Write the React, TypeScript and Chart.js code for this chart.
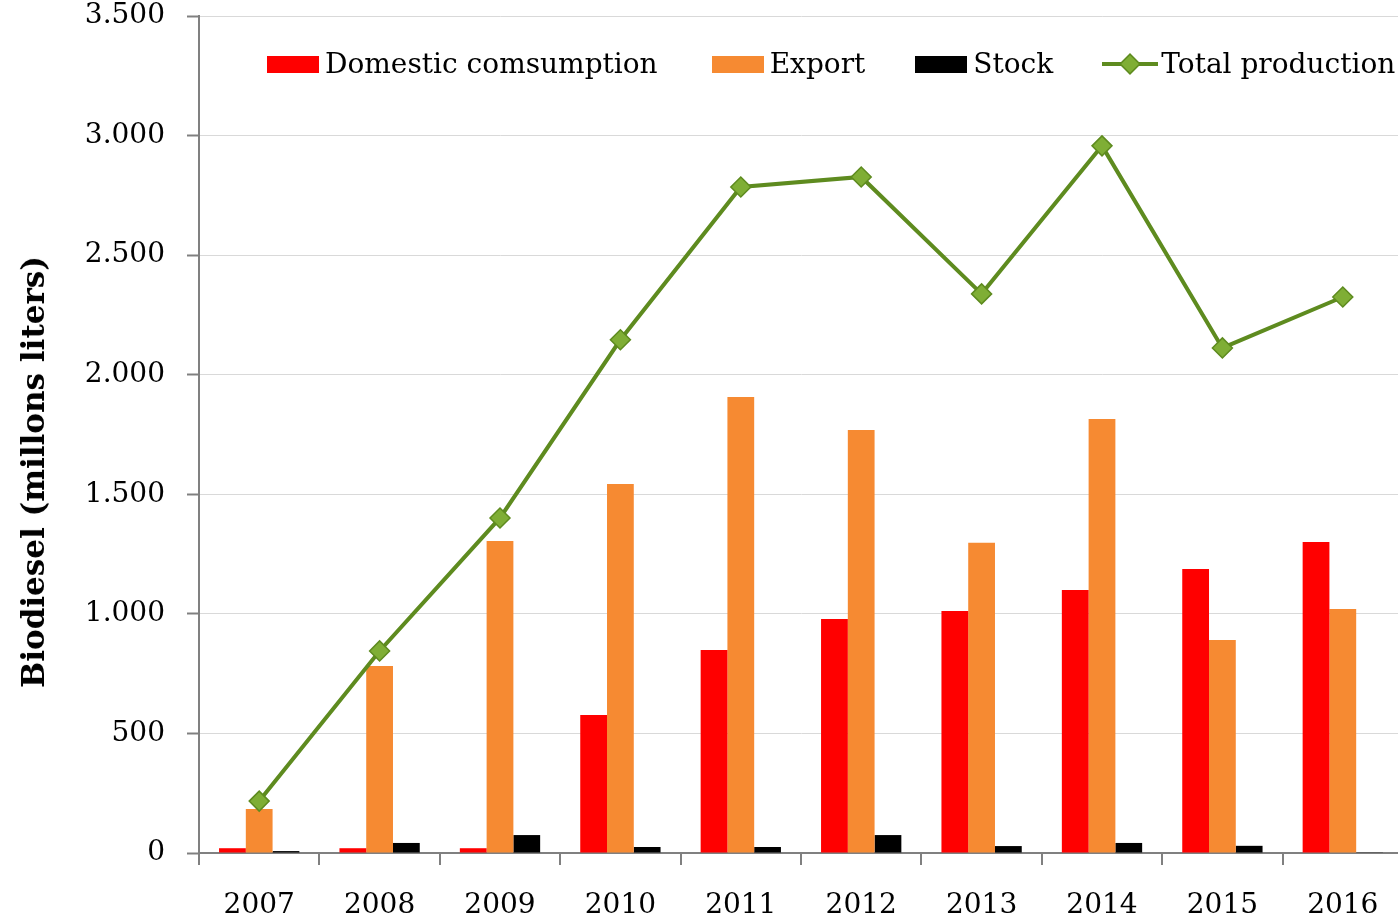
import React, { useEffect, useRef } from "react";
import { Chart, registerables } from "chart.js";

Chart.register(...registerables);

const years = ["2007", "2008", "2009", "2010", "2011", "2012", "2013", "2014", "2015", "2016"];
const domestic = [20, 20, 20, 577, 849, 979, 1012, 1100, 1188, 1301];
const exportVals = [184, 782, 1305, 1543, 1907, 1769, 1297, 1815, 891, 1020];
const stock = [8, 42, 75, 25, 25, 75, 29, 42, 30, 3];
const totalProduction = [217, 845, 1401, 2146, 2785, 2827, 2338, 2957, 2112, 2325];
const yTicks = [0, 500, 1000, 1500, 2000, 2500, 3000, 3500];

const FONT = "'DejaVu Serif', serif";
const RED = "#FF0000";
const ORANGE = "#F68A32";
const GREEN = "#5E8B1F";
const GREEN_FILL = "#7FAE35";

function fmt(v: number): string {
  const s = String(Math.round(v));
  return s.replace(/\B(?=(\d{3})+(?!\d))/g, ".");
}

export default function App() {
  const ref = useRef<HTMLCanvasElement | null>(null);

  useEffect(() => {
    if (!ref.current) return;
    const chart = new Chart(ref.current, {
      type: "bar",
      data: {
        labels: years,
        datasets: [
          {
            type: "line",
            label: "Total production",
            data: totalProduction,
            borderColor: GREEN,
            backgroundColor: GREEN_FILL,
            borderWidth: 4,
            pointStyle: "rectRot",
            pointRadius: 10,
            pointBorderWidth: 1.5,
            pointBorderColor: GREEN,
            pointBackgroundColor: GREEN_FILL,
            tension: 0,
            clip: false,
            order: 0,
          } as any,
          {
            label: "Domestic comsumption",
            data: domestic,
            backgroundColor: RED,
            categoryPercentage: 0.667,
            barPercentage: 1,
            order: 1,
          },
          {
            label: "Export",
            data: exportVals,
            backgroundColor: ORANGE,
            categoryPercentage: 0.667,
            barPercentage: 1,
            order: 1,
          },
          {
            label: "Stock",
            data: stock,
            backgroundColor: "#000000",
            categoryPercentage: 0.667,
            barPercentage: 1,
            order: 1,
          },
        ],
      },
      options: {
        animation: false,
        responsive: true,
        maintainAspectRatio: false,
        layout: { padding: 0, autoPadding: false },
        plugins: {
          legend: { display: false },
          tooltip: { enabled: false },
        },
        scales: {
          x: {
            offset: true,
            grid: {
              offset: true,
              drawOnChartArea: false,
              drawTicks: true,
              tickLength: 12,
              color: "#808080",
              lineWidth: 2,
            },
            border: { color: "#808080", width: 2 },
            ticks: {
              color: "#000",
              font: { family: FONT, size: 28 },
              padding: 24,
              maxRotation: 0,
            },
            afterFit: (s: any) => {
              s.height = 67;
              s.paddingLeft = 0;
              s.paddingRight = 0;
            },
          },
          y: {
            min: 0,
            max: 3500,
            afterBuildTicks: (s: any) => {
              s.ticks = yTicks.map((v) => ({ value: v }));
            },
            grid: {
              color: "#D9D9D9",
              lineWidth: 1,
              drawTicks: true,
              tickLength: 12,
              tickColor: "#808080",
              tickWidth: 2,
            },
            border: { color: "#808080", width: 2 },
            ticks: {
              color: "#000",
              font: { family: FONT, size: 28 },
              padding: 22,
              callback: (v: any) => fmt(Number(v)),
            },
            afterFit: (s: any) => {
              s.width = 199;
              s.paddingTop = 16;
              s.paddingBottom = 0;
            },
          },
        },
      },
    });
    return () => chart.destroy();
  }, []);

  const legendText: React.CSSProperties = {
    fontFamily: FONT,
    fontSize: 28,
    color: "#000",
    whiteSpace: "nowrap",
    lineHeight: "34px",
  };
  const box = (c: string): React.CSSProperties => ({
    display: "inline-block",
    width: 52,
    height: 17,
    background: c,
    marginRight: 6,
  });

  return (
    <div style={{ position: "fixed", left: 0, top: 0, width: 1398, height: 920, background: "#fff", overflow: "hidden" }}>
      <div style={{ position: "absolute", left: 0, top: 0, width: 1403, height: 920 }}>
        <canvas ref={ref} />
      </div>
      <div
        style={{
          position: "absolute",
          left: 33,
          top: 472,
          transform: "translate(-50%, -50%) rotate(-90deg)",
          fontFamily: FONT,
          fontSize: 31,
          fontWeight: "bold",
          whiteSpace: "nowrap",
          color: "#000",
        }}
      >
        Biodiesel (millons liters)
      </div>
      <div
        style={{
          position: "absolute",
          top: 47,
          left: 267,
          display: "flex",
          alignItems: "center",
          ...legendText,
        }}
      >
        <span style={{ display: "flex", alignItems: "center", marginRight: 54 }}>
          <span style={box(RED)} />
          Domestic comsumption
        </span>
        <span style={{ display: "flex", alignItems: "center", marginRight: 50 }}>
          <span style={box(ORANGE)} />
          Export
        </span>
        <span style={{ display: "flex", alignItems: "center", marginRight: 49 }}>
          <span style={box("#000")} />
          Stock
        </span>
        <span style={{ display: "flex", alignItems: "center" }}>
          <svg width={56} height={22} style={{ marginRight: 3 }}>
            <line x1={0} y1={11} x2={56} y2={11} stroke={GREEN} strokeWidth={4} />
            <rect x={21} y={4} width={14} height={14} transform="rotate(45 28 11)" fill={GREEN_FILL} stroke={GREEN} strokeWidth={1.5} />
          </svg>
          Total production
        </span>
      </div>
    </div>
  );
}
